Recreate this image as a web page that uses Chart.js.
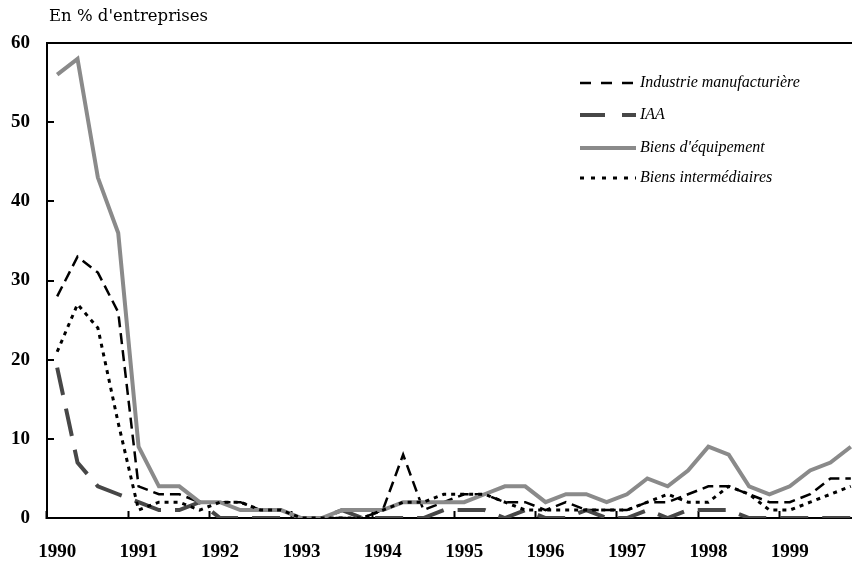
<!DOCTYPE html>
<html lang="fr">
<head>
  <title>En % d'entreprises</title>
  <meta charset="UTF-8">
  <script src="https://cdn.jsdelivr.net/npm/chart.js"></script>
  <style>
    * {
      margin: 0;
      padding: 0;
      box-sizing: border-box;
    }

    html, body {
      width: 852px;
      height: 563px;
      overflow: hidden;
      background-color: white;
    }

    /* a bit wider than the window: the plot runs past the right edge */
    .ChartBox {
      width: 861px;
      height: 563px;
      position: relative;
    }
  </style>
</head>
<body>

  <div class="ChartBox">
    <canvas id="Entreprises"></canvas>
  </div>

  <script>

    const titleText = "En % d'entreprises";
    const years = ['1990','1991','1992','1993','1994','1995','1996','1997','1998','1999'];
    const quarters = [];
    years.forEach(y => { for (let q = 1; q <= 4; q++) quarters.push(y + 'T' + q); });

    const industrie      = [28,33,31,26, 4,3,3,2, 2,2,1,1, 0,0,0,0, 1,8,1,2, 3,3,2,2, 1,2,1,1, 1,2,2,3, 4,4,3,2, 2,3,5,5];
    const iaa            = [19,7,4,3, 2,1,1,2, 0,0,0,0, 0,0,1,0, 0,0,0,1, 1,1,0,1, 0,0,1,0, 0,1,0,1, 1,1,0,0, 0,0,0,0];
    const equipement     = [56,58,43,36, 9,4,4,2, 2,1,1,1, 0,0,1,1, 1,2,2,2, 2,3,4,4, 2,3,3,2, 3,5,4,6, 9,8,4,3, 4,6,7,9];
    const intermediaires = [21,27,24,12, 1,2,2,1, 2,2,1,1, 0,0,0,0, 1,2,2,3, 3,3,2,1, 1,1,1,1, 1,2,3,2, 2,4,3,1, 1,2,3,4];

    const yMin = 0, yMax = 60, yStep = 10;

    /************************************************************************
                        Title and legend drawn inside the plot
    *************************************************************************/
    const legendRows = [83, 115, 148, 178];

    const titleAndLegend = {
      id: 'titleAndLegend',
      afterDraw(chart) {
        const ctx = chart.ctx;
        ctx.save();
        ctx.fillStyle = '#000';
        ctx.textBaseline = 'middle';
        ctx.textAlign = 'left';
        ctx.font = '16.5px "DejaVu Serif"';
        ctx.fillText(titleText, 49, 17);

        chart.data.datasets.forEach((ds, i) => {
          const y = legendRows[i];
          ctx.beginPath();
          ctx.strokeStyle = ds.borderColor;
          ctx.lineWidth = ds.borderWidth;
          ctx.setLineDash(ds.legendDash || []);
          ctx.moveTo(580, y);
          ctx.lineTo(636, y);
          ctx.stroke();
          ctx.setLineDash([]);
          ctx.fillStyle = '#000';
          ctx.font = 'italic 16px "Liberation Serif"';
          ctx.fillText(ds.label, 640, y);
        });
        ctx.restore();
      }
    };

    const tickFont = { family: 'Liberation Serif', weight: 'bold', size: 19 };

    const chartLocation = document.getElementById('Entreprises').getContext('2d');
    const EntreprisesChart = new Chart(chartLocation, {
      type: 'line',
      data: {
        labels: quarters,
        datasets: [
          {
            label: 'Industrie manufacturière',
            data: industrie,
            borderColor: '#000000',
            borderWidth: 2.5,
            borderDash: [11, 6],
            legendDash: [11, 10],
            order: 3
          },
          {
            label: 'IAA',
            data: iaa,
            borderColor: '#474747',
            borderWidth: 4,
            borderDash: [28, 14],
            legendDash: [25, 17],
            order: 2
          },
          {
            label: "Biens d'équipement",
            data: equipement,
            borderColor: '#8a8a8a',
            borderWidth: 4,
            order: 1
          },
          {
            label: 'Biens intermédiaires',
            data: intermediaires,
            borderColor: '#000000',
            borderWidth: 3,
            borderDash: [4, 5],
            legendDash: [4, 7],
            order: 0
          }
        ]
      },
      options: {
        responsive: true,
        maintainAspectRatio: false,
        animation: false,
        elements: {
          point: { radius: 0, hoverRadius: 0 },
          line: { tension: 0, fill: false, borderCapStyle: 'butt', borderJoinStyle: 'miter' }
        },
        layout: { padding: { top: 43, left: 0, right: 0, bottom: 0 } },
        plugins: {
          legend: { display: false },
          title: { display: false },
          tooltip: { enabled: false }
        },
        scales: {
          x: {
            type: 'category',
            offset: true,
            grid: {
              offset: true,
              drawOnChartArea: false,
              drawTicks: true,
              tickLength: -7,
              tickWidth: 2,
              tickColor: c => (c.index % 4 === 0 ? '#000' : 'rgba(0,0,0,0)')
            },
            border: { display: true, color: '#000', width: 2 },
            ticks: {
              autoSkip: false,
              maxRotation: 0,
              minRotation: 0,
              padding: 30,
              color: '#000',
              font: tickFont,
              callback: (v, i) => (i % 4 === 0 ? quarters[i].slice(0, 4) : '')
            },
            afterFit: s => {
              s.height = 45;
              s.paddingLeft = 0;
              s.paddingRight = 0;
            }
          },
          y: {
            min: yMin,
            max: yMax,
            grid: {
              drawOnChartArea: true,
              color: c => (c.tick && c.tick.value === yMax ? '#000' : 'rgba(0,0,0,0)'),
              lineWidth: 2,
              drawTicks: true,
              tickLength: -7,
              tickWidth: 2,
              tickColor: '#000'
            },
            border: { display: true, color: '#000', width: 2 },
            ticks: {
              stepSize: yStep,
              padding: 24,
              color: '#000',
              font: tickFont
            },
            afterFit: s => { s.width = 47; }
          }
        }
      },
      plugins: [titleAndLegend]
    });

  </script>
</body>
</html>
